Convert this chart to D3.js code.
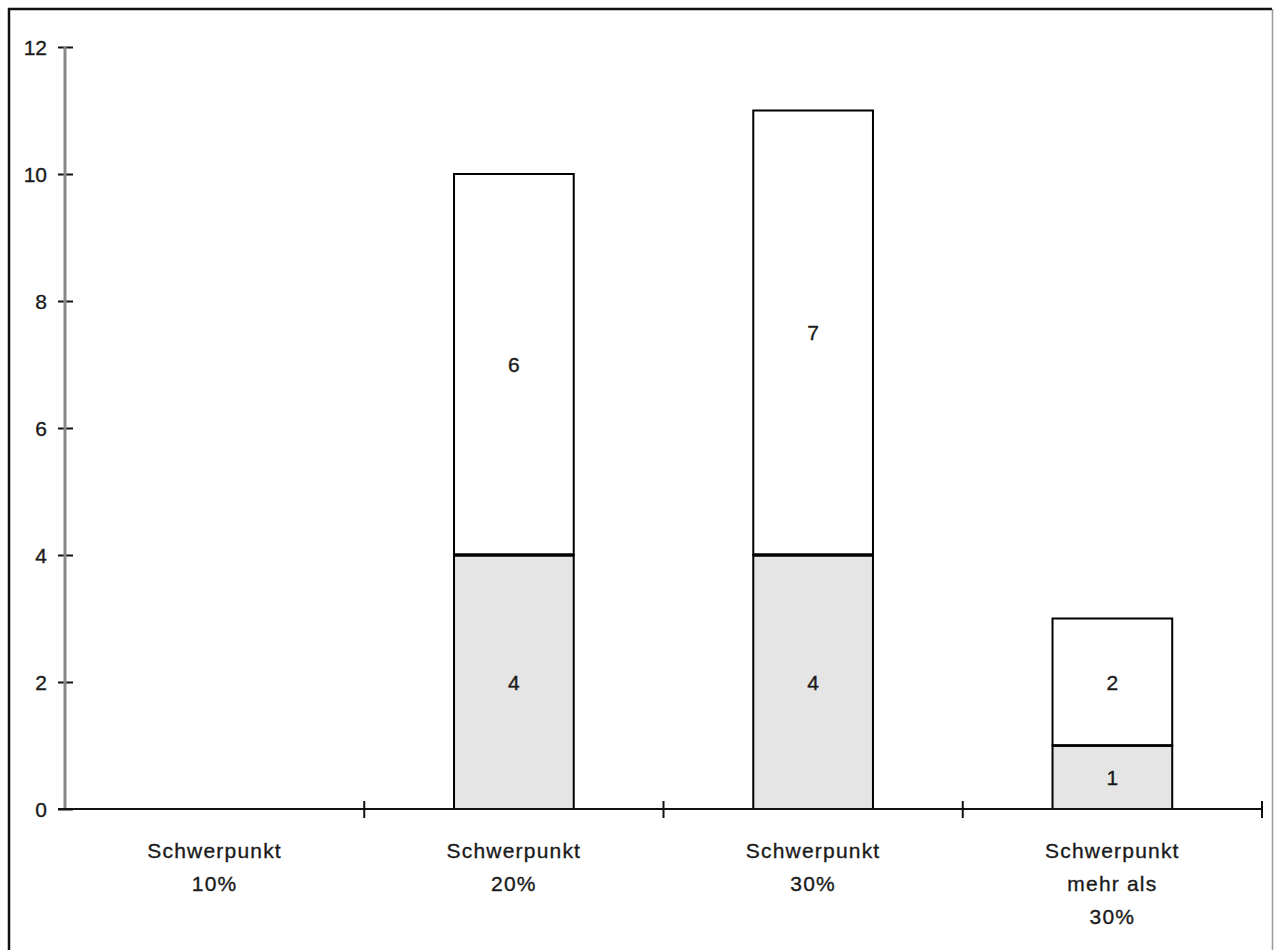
<!DOCTYPE html>
<html><head><meta charset="utf-8">
<script src="https://cdn.jsdelivr.net/npm/d3@7"></script>
<style>body{margin:0;background:#fff}svg{display:block}text{font-family:"Liberation Sans",Arial,sans-serif}</style>
</head><body><svg id="c" width="1274" height="950"></svg>
<script>
const categories = [["Schwerpunkt","10%"],["Schwerpunkt","20%"],["Schwerpunkt","30%"],["Schwerpunkt","mehr als","30%"]];
const lowerValues = [0,4,4,1];
const upperValues = [0,6,7,2];
const yTicks = [0,2,4,6,8,10,12];

const svg = d3.select("#c");
const x0 = 65, x1 = 1262, yTop = 47, yBot = 809;
const FS = 21;
const x = d3.scaleBand().domain(d3.range(categories.length)).range([x0,x1]).paddingInner(0).paddingOuter(0);
const y = d3.scaleLinear().domain([0,12]).range([yBot,yTop]);
const bw = x.bandwidth()*0.4;

function styleText(sel){
  return sel.attr("font-size",FS).attr("fill","#1a1a1a").attr("stroke","#1a1a1a").attr("stroke-width",0.35);
}

// outer frame
svg.append("path").attr("d",`M9,960 V9 H1272`).attr("fill","none").attr("stroke","#111").attr("stroke-width",2.5);
svg.append("line").attr("x1",1272.5).attr("x2",1272.5).attr("y1",9).attr("y2",960).attr("stroke","#999").attr("stroke-width",1.5);

// bars
const g = svg.append("g");
categories.forEach((c,i)=>{
  const cx = x(i)+x.bandwidth()/2;
  const lo = lowerValues[i], hi = upperValues[i];
  if(lo+hi===0) return;
  g.append("rect").attr("x",cx-bw/2).attr("width",bw).attr("y",y(lo)).attr("height",y(0)-y(lo))
    .attr("fill","#e5e5e5").attr("stroke","#000").attr("stroke-width",2);
  g.append("rect").attr("x",cx-bw/2).attr("width",bw).attr("y",y(lo+hi)).attr("height",y(lo)-y(lo+hi))
    .attr("fill","#fff").attr("stroke","#000").attr("stroke-width",2);
  g.append("line").attr("x1",cx-bw/2).attr("x2",cx+bw/2).attr("y1",y(lo)).attr("y2",y(lo))
    .attr("stroke","#000").attr("stroke-width",i<3?3.5:2.5);
  styleText(g.append("text").attr("x",cx).attr("y",y(lo/2)).attr("dy","0.36em").attr("text-anchor","middle")).text(lo);
  styleText(g.append("text").attr("x",cx).attr("y",y(lo+hi/2)).attr("dy","0.36em").attr("text-anchor","middle")).text(hi);
});

// y axis
const ya = svg.append("g").attr("transform",`translate(${x0},0)`)
  .call(d3.axisLeft(y).tickValues(yTicks).tickSize(0).tickPadding(18));
ya.select(".domain").remove();
ya.append("line").attr("x1",0).attr("x2",0).attr("y1",yTop).attr("y2",yBot).attr("stroke","#888").attr("stroke-width",3);
ya.selectAll(".tick").append("line").attr("x1",-7).attr("x2",8).attr("stroke","#111").attr("stroke-width",2);
styleText(ya.selectAll("text")).attr("font-family","Liberation Sans, Arial, sans-serif").attr("dy","0.36em");

// x axis
const xa = svg.append("g").attr("transform",`translate(0,${yBot})`);
xa.append("line").attr("x1",x0-7).attr("x2",x1).attr("stroke","#111").attr("stroke-width",2);
const bounds = d3.range(1,categories.length+1).map(i=> i<categories.length ? x(i) : x1);
xa.selectAll(".xt").data(bounds).join("line").attr("x1",d=>d).attr("x2",d=>d).attr("y1",-8).attr("y2",9)
  .attr("stroke","#111").attr("stroke-width",2);
categories.forEach((c,i)=>{
  const cx = x(i)+x.bandwidth()/2;
  const t = styleText(xa.append("text").attr("text-anchor","middle")).attr("letter-spacing","1.2px");
  c.forEach((line,k)=>t.append("tspan").attr("x",cx).attr("y",49+k*33).text(line));
});
</script></body></html>
